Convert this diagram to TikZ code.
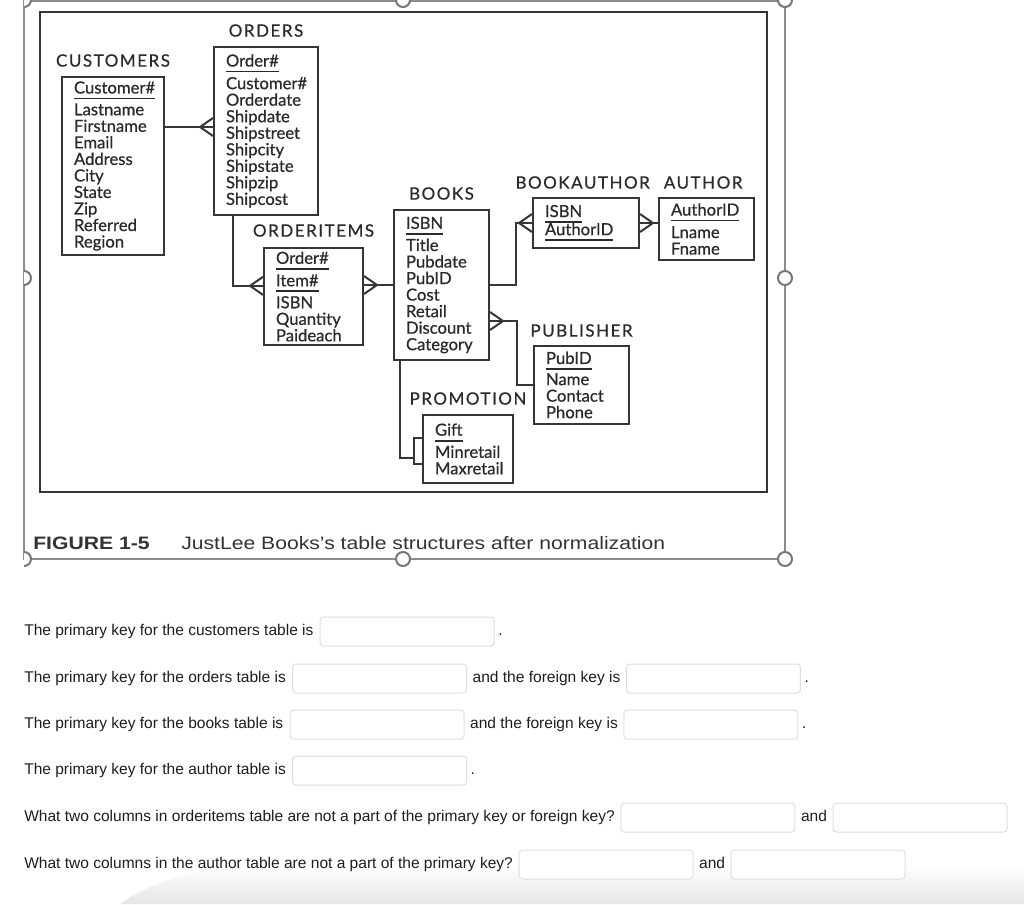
\documentclass[tikz,border=0pt]{standalone}
\usepackage{fontspec}
\setmainfont{Liberation Sans}
\newfontfamily\erfont[FakeBold=0.6]{Lato}
\newfontfamily\ertitle[LetterSpace=9, FakeBold=0.5]{Lato}
\usetikzlibrary{positioning}

\definecolor{ErLine}{HTML}{363636}
\definecolor{ErText}{HTML}{2A2A2A}
\definecolor{CapText}{HTML}{333333}
\definecolor{FrameGray}{HTML}{8C8C8C}
\definecolor{HandleGray}{HTML}{777777}
\definecolor{FieldLine}{HTML}{DEDEDE}
\definecolor{QText}{HTML}{1E1E1E}

% thick underline for key columns
\newcommand{\pkey}[1]{\leavevmode\setbox0\hbox{#1}\rlap{\rule[-4.4pt]{\wd0}{1.3pt}}\box0}

\begin{document}
\begin{tikzpicture}[x=0.75pt, y=-0.75pt,
  entity/.style={draw=ErLine, line width=1.5pt, anchor=north west, align=left,
    inner xsep=9pt, inner ysep=0pt, text=ErText,
    font=\erfont\fontsize{12.5pt}{12.4pt}\selectfont},
  %
  entityname/.style={text=ErText, inner sep=0pt,
    font=\ertitle\fontsize{12.75pt}{14pt}\selectfont},
  %
  link/.style={draw=ErLine, line width=1.5pt},
  %
  crow west/.pic={\draw[link] (-13,0) -- (0,-9) (-13,0) -- (0,9);},
  crow east/.pic={\draw[link] (13,0) -- (0,-9) (13,0) -- (0,9);},
  %
  caption/.style={anchor=base west, inner sep=0pt, text=CapText},
  %
  question/.style={anchor=west, inner sep=0pt, text=QText,
    font=\fontsize{11.65pt}{13pt}\selectfont,
    execute at begin node={\vphantom{Tp}}},
  %
  field/.style={draw=FieldLine, fill=white, line width=0.75pt,
    rounded corners=2.5pt, minimum width=130.5pt, minimum height=21.75pt,
    inner sep=0pt},
  %
  handle/.style={draw=HandleGray, fill=white, line width=1.5pt}
  ]

  \useasboundingbox (0,0) rectangle (1024,904);
  \fill[white] (0,0) rectangle (1024,904);

  % page shadow
  \shade[top color=white, bottom color=black!10]
    (120,904) .. controls (170,870) and (220,866) .. (300,866)
    -- (1024,866) -- (1024,904) -- cycle;

  % selection frame
  \draw[FrameGray, line width=1.1pt] (24,1) rectangle (785,559);
  \begin{scope}
    \clip (24,-10) rectangle (1030,910);
    \draw[handle] (24,0) circle[radius=7] (403,0) circle[radius=7]
      (785,0) circle[radius=7] (24,278) circle[radius=7]
      (785,278) circle[radius=7] (24,559) circle[radius=7]
      (403,559) circle[radius=7] (785,559) circle[radius=7];
  \end{scope}

  % figure border
  \draw[ErLine, line width=1.5pt] (40,12) rectangle (767,492);

  \begin{scope}
    %%%%%%%%%%%%%%%%%%%%%%%%%%%%%%%
    \node[entity, text width=58.5pt, minimum height=133.5pt] (customers)
      at (61,76) {\pkey{Customer\#}\\[2pt] Lastname\\ Firstname\\ Email\\
      Address\\ City\\ State\\ Zip\\ Referred\\ Region};
    \node[entityname, above=6.75pt of customers] (tcustomers) {CUSTOMERS};
    %%%%%%%%%%%%%%%%%%%%%%%%%%%%%%%
    \node[entity, text width=60pt, minimum height=126pt] (orders)
      at (213,46) {\pkey{Order\#}\\[2.5pt] Customer\#\\ Orderdate\\ Shipdate\\
      Shipstreet\\ Shipcity\\ Shipstate\\ Shipzip\\ Shipcost};
    \node[entityname, above=6.75pt of orders] (torders) {ORDERS};
    %%%%%%%%%%%%%%%%%%%%%%%%%%%%%%%
    \node[entity, text width=56.25pt, minimum height=72.75pt] (orderitems)
      at (263,247) {\pkey{Order\#}\\[2.5pt] \pkey{Item\#}\\[2pt] ISBN\\
      Quantity\\ Paideach};
    \node[entityname, above=7.5pt of orderitems] (torderitems) {ORDERITEMS};
    %%%%%%%%%%%%%%%%%%%%%%%%%%%%%%%
    \node[entity, text width=53.25pt, minimum height=112.5pt] (books)
      at (393,209) {\pkey{ISBN}\\[2pt] Title\\ Pubdate\\ PubID\\ Cost\\
      Retail\\ Discount\\ Category};
    \node[entityname, above=6.75pt of books] (tbooks) {BOOKS};
    %%%%%%%%%%%%%%%%%%%%%%%%%%%%%%%
    \node[entity, text width=61.5pt, minimum height=37.5pt] (bookauthor)
      at (532,197) {\pkey{ISBN}\\[-1pt] \pkey{AuthorID}};
    \node[entityname, above=6pt of bookauthor, xshift=-2.5pt] (tbookauthor)
      {BOOKAUTHOR};
    %%%%%%%%%%%%%%%%%%%%%%%%%%%%%%%
    \node[entity, text width=53.25pt, minimum height=46.5pt] (author)
      at (658,197) {\pkey{AuthorID}\\[2.5pt] Lname\\ Fname};
    \node[entityname, above=6pt of author, xshift=-2.5pt] (tauthor) {AUTHOR};
    %%%%%%%%%%%%%%%%%%%%%%%%%%%%%%%
    \node[entity, text width=53.25pt, minimum height=58.5pt] (publisher)
      at (533,345) {\pkey{PubID}\\[1.5pt] Name\\ Contact\\ Phone};
    \node[entityname, above=6pt of publisher] (tpublisher) {PUBLISHER};
    %%%%%%%%%%%%%%%%%%%%%%%%%%%%%%%
    \node[entity, text width=49.5pt, minimum height=51pt] (promotion)
      at (422,414) {\pkey{Gift}\\[2pt] Minretail\\ Maxretail};
    \node[entityname, above=6.75pt of promotion] (tpromotion) {PROMOTION};
  \end{scope}

  \begin{scope}
    \coordinate (co) at ([yshift=3pt]orders.west);
    \draw[link] (customers.east |- co) -- (co);
    \pic at (co) {crow west};

    \coordinate (oi) at ([yshift=8pt]orderitems.west);
    \draw[link] ([xshift=15pt]orders.south west) |- (oi);
    \pic at (oi) {crow west};

    \draw[link] (orderitems.east |- books.west) -- (books.west);
    \pic at (orderitems.east |- books.west) {crow east};

    \draw[link] (books.east) -- ++(26,0) |- (bookauthor.west);
    \pic at (bookauthor.west) {crow west};

    \draw[link] (bookauthor.east) -- (author.west |- bookauthor.east);
    \pic at (bookauthor.east) {crow east};

    \coordinate (bp) at ([yshift=-27pt]books.east);
    \draw[link] (bp) -- ++(27,0) |- (publisher.west);
    \pic at (bp) {crow east};

    \coordinate (bpr) at ([yshift=-6.75pt]promotion.west);
    \draw[link] ([xshift=5.25pt]books.south west) |- ([xshift=-6pt]bpr);
    \draw[link] ([yshift=8.25pt]promotion.west) -- ++(-8,0) -- ++(0,26)
      -- ++(8,0);
  \end{scope}

  % caption
  \node[caption, font=\bfseries\fontsize{13.5pt}{15pt}\selectfont] (figno)
    at (33,549) {\scalebox{1.175}[1]{FIGURE 1-5}};
  \node[caption, font=\fontsize{13.5pt}{15pt}\selectfont] (figtitle)
    at (181,549) {\scalebox{1.175}[1]{JustLee Books’s table structures
    after normalization}};

  % questions
  \node[question] (q1) at (24,631.5) {The primary key for the customers table is};
  \node[field, right=4.5pt of q1] (a1) {};
  \node[question, right=2.5pt of a1] (p1) {.};
  %
  \node[question] (q2) at (24,678.5) {The primary key for the orders table is};
  \node[field, right=4.5pt of q2] (a2) {};
  \node[question, right=4pt of a2] (k2) {and the foreign key is};
  \node[field, right=4pt of k2] (a3) {};
  \node[question, right=2.5pt of a3] (p2) {.};
  %
  \node[question] (q3) at (24,724.5) {The primary key for the books table is};
  \node[field, right=4.5pt of q3] (a4) {};
  \node[question, right=4pt of a4] (k3) {and the foreign key is};
  \node[field, right=4pt of k3] (a5) {};
  \node[question, right=2.5pt of a5] (p3) {.};
  %
  \node[question] (q4) at (24,770.5) {The primary key for the author table is};
  \node[field, right=4.5pt of q4] (a6) {};
  \node[question, right=2.5pt of a6] (p4) {.};
  %
  \node[question] (q5) at (24,817.5) {What two columns in orderitems table are
    not a part of the primary key or foreign key?};
  \node[field, right=4pt of q5] (a7) {};
  \node[question, right=4pt of a7] (k5) {and};
  \node[field, right=4pt of k5] (a8) {};
  %
  \node[question] (q6) at (24,864.5) {What two columns in the author table are
    not a part of the primary key?};
  \node[field, right=4pt of q6] (a9) {};
  \node[question, right=4pt of a9] (k6) {and};
  \node[field, right=4pt of k6] (a10) {};

\end{tikzpicture}
\end{document}
